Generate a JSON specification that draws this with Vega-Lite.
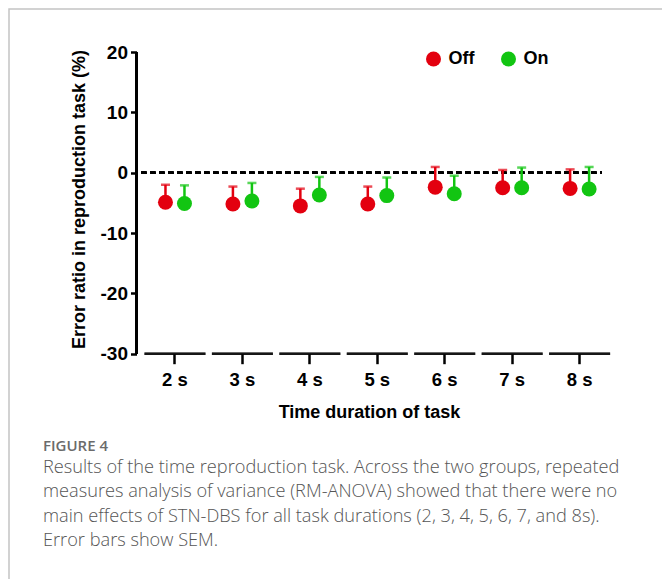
{
  "$schema": "https://vega.github.io/schema/vega-lite/v6.json",
  "width": 653,
  "height": 570,
  "autosize": {"type": "none"},
  "padding": {"left": 9, "top": 9, "right": 0, "bottom": 0},
  "background": "white",
  "config": {
    "font": "Liberation Sans",
    "view": {"stroke": "#c4c4c4", "strokeWidth": 1.5, "strokeDash": [653, 1223, 570, 10]}
  },
  "title": {
    "text": "FIGURE 4",
    "subtitle": [
      "Results of the time reproduction task. Across the two groups, repeated",
      "measures analysis of variance (RM-ANOVA) showed that there were no",
      "main effects of STN-DBS for all task durations (2, 3, 4, 5, 6, 7, and 8s).",
      "Error bars show SEM."
    ],
    "orient": "top",
    "anchor": "start",
    "frame": "group",
    "offset": -540,
    "dx": 34,
    "font": "Open Sans",
    "fontSize": 15,
    "fontWeight": 600,
    "color": "#6b6b6b",
    "subtitleFont": "Open Sans",
    "subtitleFontSize": 18.2,
    "subtitleFontWeight": 300,
    "subtitleColor": "#555555",
    "subtitleLineHeight": 24.2,
    "subtitlePadding": 5
  },
  "data": {
    "values": [
      {"dur": "2 s", "grp": "Off", "mean": -4.9, "hi": -2.0},
      {"dur": "2 s", "grp": "On", "mean": -5.1, "hi": -2.1},
      {"dur": "3 s", "grp": "Off", "mean": -5.2, "hi": -2.3},
      {"dur": "3 s", "grp": "On", "mean": -4.7, "hi": -1.7},
      {"dur": "4 s", "grp": "Off", "mean": -5.5, "hi": -2.65},
      {"dur": "4 s", "grp": "On", "mean": -3.7, "hi": -0.7},
      {"dur": "5 s", "grp": "Off", "mean": -5.2, "hi": -2.3},
      {"dur": "5 s", "grp": "On", "mean": -3.8, "hi": -0.8},
      {"dur": "6 s", "grp": "Off", "mean": -2.4, "hi": 0.95},
      {"dur": "6 s", "grp": "On", "mean": -3.5, "hi": -0.5},
      {"dur": "7 s", "grp": "Off", "mean": -2.5, "hi": 0.45},
      {"dur": "7 s", "grp": "On", "mean": -2.5, "hi": 0.85},
      {"dur": "8 s", "grp": "Off", "mean": -2.6, "hi": 0.55},
      {"dur": "8 s", "grp": "On", "mean": -2.7, "hi": 0.95}
    ]
  },
  "encoding": {
    "x": {
      "field": "dur",
      "type": "ordinal",
      "scale": {
        "domain": ["2 s", "3 s", "4 s", "5 s", "6 s", "7 s", "8 s"],
        "range": [132.25, 604.33],
        "paddingInner": 0,
        "paddingOuter": 0
      },
      "axis": {
        "title": "Time duration of task",
        "orient": "bottom",
        "offset": -225.3,
        "domain": false,
        "labelAngle": 0,
        "tickSize": 10,
        "tickWidth": 2.5,
        "tickColor": "black",
        "labelFont": "Liberation Sans",
        "labelFontSize": 18.5,
        "labelFontWeight": "bold",
        "labelColor": "black",
        "labelPadding": 7,
        "titleFont": "Liberation Sans",
        "titleFontSize": 18,
        "titleFontWeight": "bold",
        "titleColor": "black",
        "titlePadding": 14,
        "titleX": 360
      }
    },
    "y": {
      "type": "quantitative",
      "scale": {"domain": [-67.34, 27.13], "nice": false, "zero": false}
    }
  },
  "layer": [
    {
      "mark": {"type": "rule", "color": "black", "strokeWidth": 2.5},
      "encoding": {
        "x": {"datum": "2 s", "bandPosition": -0.0704},
        "y": {"datum": -30, "type": "quantitative", "axis": {
          "title": "Error ratio in reproduction task (%)",
          "orient": "left",
          "offset": -127.5,
          "domain": false,
          "grid": false,
          "values": [-30, -20, -10, 0, 10, 20],
          "labelExpr": "'' + datum.value",
          "tickSize": 6,
          "tickWidth": 2.5,
          "tickColor": "black",
          "labelFont": "Liberation Sans",
          "labelFontSize": 19,
          "labelFontWeight": "bold",
          "labelColor": "black",
          "labelPadding": 3,
          "titleFont": "Liberation Sans",
          "titleFontSize": 18,
          "titleFontWeight": "bold",
          "titleColor": "black",
          "titlePadding": 12,
          "titleY": 190
        }},
        "y2": {"datum": 20}
      }
    },
    {
      "mark": {"type": "rule", "color": "black", "strokeWidth": 2.4, "strokeDash": [5, 4]},
      "encoding": {
        "x": {"datum": "2 s", "bandPosition": 0},
        "x2": {"datum": "8 s", "bandPosition": 0.83},
        "y": {"datum": 0, "type": "quantitative"}
      }
    },
    {
      "mark": {"type": "tick", "orient": "horizontal", "color": "black", "size": 61, "thickness": 2.5},
      "encoding": {
        "y": {"datum": -30, "type": "quantitative"}
      }
    },
    {
      "mark": {"type": "rule", "strokeWidth": 2.5},
      "encoding": {
        "xOffset": {"field": "grp", "type": "nominal", "scale": {"domain": ["Off", "On"], "paddingInner": 0, "paddingOuter": 0.775}},
        "y": {"field": "mean", "type": "quantitative"},
        "y2": {"field": "hi"},
        "color": {"field": "grp", "type": "nominal", "scale": {"domain": ["Off", "On"], "range": ["#e3000f", "#12c512"]}}
      }
    },
    {
      "mark": {"type": "tick", "orient": "horizontal", "size": 9, "thickness": 2.5},
      "encoding": {
        "xOffset": {"field": "grp", "type": "nominal", "scale": {"domain": ["Off", "On"], "paddingInner": 0, "paddingOuter": 0.775}},
        "y": {"field": "hi", "type": "quantitative"},
        "color": {"field": "grp", "type": "nominal", "scale": {"domain": ["Off", "On"], "range": ["#e3000f", "#12c512"]}}
      }
    },
    {
      "mark": {"type": "point", "shape": "circle", "filled": true, "opacity": 1, "size": 225},
      "encoding": {
        "xOffset": {"field": "grp", "type": "nominal", "scale": {"domain": ["Off", "On"], "paddingInner": 0, "paddingOuter": 0.775}},
        "y": {"field": "mean", "type": "quantitative"},
        "color": {
          "field": "grp",
          "type": "nominal",
          "scale": {"domain": ["Off", "On"], "range": ["#e3000f", "#12c512"]},
          "legend": {
            "title": null,
            "orient": "none",
            "legendX": 415.5,
            "legendY": 41,
            "direction": "horizontal",
            "symbolType": "circle",
            "symbolSize": 225,
            "symbolStrokeWidth": 0,
            "symbolOpacity": 1,
            "labelFont": "Liberation Sans",
            "labelFontSize": 18,
            "labelFontWeight": "bold",
            "labelColor": "black",
            "labelOffset": 6,
            "columnPadding": 25,
            "encode": {
              "symbols": {
                "update": {
                  "opacity": {"value": 1},
                  "fillOpacity": {"value": 1},
                  "strokeWidth": {"value": 0}
                }
              }
            }
          }
        }
      }
    }
  ]
}
